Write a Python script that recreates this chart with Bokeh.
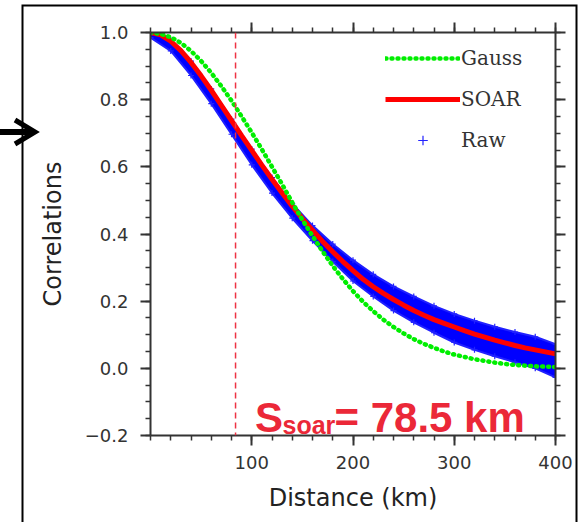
from urllib.parse import quote
from bokeh.plotting import figure
from bokeh.models import (Range1d, FixedTicker, LinearAxis, Span, Label, Legend, LegendItem,
                          PrintfTickFormatter)
from bokeh.embed import file_html
from bokeh.resources import INLINE

# ---------------- data ----------------
dist = [0, 10, 20, 30, 40, 50, 60, 70, 80, 90, 100, 110, 120, 130, 140, 150, 160, 170, 180, 190,
        200, 210, 220, 230, 240, 250, 260, 270, 280, 290, 300, 310, 320, 330, 340, 350, 360, 370,
        380, 390, 400]
soar = [1.000, 0.993, 0.974, 0.946, 0.911, 0.871, 0.828, 0.783, 0.738, 0.693, 0.649, 0.605,
        0.563, 0.522, 0.483, 0.446, 0.411, 0.378, 0.347, 0.318, 0.291, 0.265, 0.243, 0.223,
        0.205, 0.188, 0.172, 0.158, 0.145, 0.134, 0.123, 0.112, 0.102, 0.093, 0.084, 0.076,
        0.068, 0.061, 0.055, 0.049, 0.043]
gauss = [1.000, 0.996, 0.986, 0.969, 0.945, 0.915, 0.880, 0.840, 0.797, 0.750, 0.702, 0.652,
         0.600, 0.548, 0.494, 0.442, 0.394, 0.348, 0.305, 0.266, 0.230, 0.198, 0.170, 0.145,
         0.123, 0.104, 0.087, 0.073, 0.061, 0.050, 0.041, 0.034, 0.027, 0.022, 0.017, 0.013,
         0.010, 0.008, 0.006, 0.005, 0.004]

raw_dist = [0, 20, 40, 60, 80, 100, 120, 140, 160, 180, 200, 220, 240, 260, 280, 300, 320, 340,
            360, 380, 400]
raw_low = [0.985, 0.945, 0.872, 0.788, 0.697, 0.606, 0.522, 0.447, 0.380, 0.318, 0.260, 0.214,
           0.172, 0.137, 0.106, 0.077, 0.055, 0.036, 0.018, 0.000, -0.027]
raw_high = [1.004, 0.978, 0.915, 0.832, 0.742, 0.653, 0.568, 0.490, 0.425, 0.370, 0.322, 0.280,
            0.244, 0.214, 0.186, 0.162, 0.142, 0.124, 0.108, 0.094, 0.072]

scale_length = [84]          # dashed marker line (km)
x_ticks = [100, 200, 300, 400]
x_minor = [0, 20, 40, 60, 80, 100, 120, 140, 160, 180, 200, 220, 240, 260, 280, 300, 320, 340,
           360, 380, 400]
y_ticks = [-0.2, 0.0, 0.2, 0.4, 0.6, 0.8, 1.0]
y_minor = [-0.2, -0.15, -0.1, -0.05, 0.0, 0.05, 0.1, 0.15, 0.2, 0.25, 0.3, 0.35, 0.4, 0.45, 0.5,
           0.55, 0.6, 0.65, 0.7, 0.75, 0.8, 0.85, 0.9, 0.95, 1.0]
series_names = ["Gauss", "SOAR", "Raw"]

# ---------------- figure ----------------
p = figure(width=578, height=522, output_backend="svg", toolbar_location=None,
           x_range=Range1d(0, 400), y_range=Range1d(-0.2, 1.0),
           min_border_left=150, min_border_right=23, min_border_top=32, min_border_bottom=87,
           background_fill_color="white", border_fill_color=None)
p.xgrid.grid_line_color = None
p.ygrid.grid_line_color = None
p.outline_line_color = None

# page decoration outside the plot: outer black frame and the pointing arrow
decor_svg = ("<svg xmlns='http://www.w3.org/2000/svg' width='578' height='522'>"
             "<rect x='0' y='0' width='578' height='522' fill='white'/>"
             "<rect x='22.5' y='5.5' width='554' height='540' fill='none' stroke='black' "
             "stroke-width='2'/>"
             "<line x1='0' y1='132' x2='33' y2='132' stroke='black' stroke-width='6'/>"
             "<polyline points='15,120 35,132 15,144' fill='none' stroke='black' "
             "stroke-width='5'/></svg>")
p.styles = {"background-image": 'url("data:image/svg+xml,' + quote(decor_svg) + '")',
            "background-repeat": "no-repeat", "background-position": "0 0"}

axcol = "#333333"


def style_axis(ax, ticks, minor, labels=True):
    ax.ticker = FixedTicker(ticks=ticks, minor_ticks=minor)
    ax.axis_line_color = axcol
    ax.axis_line_width = 2
    ax.major_tick_line_color = axcol
    ax.major_tick_line_width = 2
    ax.major_tick_out = 10
    ax.major_tick_in = 0
    ax.minor_tick_line_color = axcol
    ax.minor_tick_line_width = 1.5
    ax.minor_tick_out = 5
    ax.minor_tick_in = 0
    if labels:
        ax.major_label_text_font = "DejaVu Sans"
        ax.major_label_text_font_size = "18px"
        ax.major_label_text_color = "#333333"
        ax.axis_label_text_font = "DejaVu Sans"
        ax.axis_label_text_font_size = "24px"
        ax.axis_label_text_font_style = "normal"
        ax.axis_label_text_color = "#222222"
    else:
        ax.major_label_text_font_size = "1px"
        ax.major_label_text_color = None
        ax.major_label_standoff = 0


style_axis(p.xaxis[0], x_ticks, x_minor)
style_axis(p.yaxis[0], y_ticks, y_minor)
p.xaxis[0].axis_label = "Distance (km)"
p.yaxis[0].axis_label = "Correlations"
p.xaxis[0].major_label_standoff = 10
p.xaxis[0].axis_label_standoff = 12
p.yaxis[0].major_label_standoff = 12
p.yaxis[0].axis_label_standoff = 15
p.yaxis[0].formatter = PrintfTickFormatter(format="%.1f")
p.yaxis[0].major_label_overrides = {-0.2: "\u22120.2"}

top_ax = LinearAxis()
style_axis(top_ax, x_ticks, x_minor, labels=False)
p.add_layout(top_ax, "above")
right_ax = LinearAxis()
style_axis(right_ax, y_ticks, y_minor, labels=False)
p.add_layout(right_ax, "right")

# ---------------- data glyphs ----------------
p.varea(x=raw_dist, y1=raw_low, y2=raw_high, fill_color="#0000ff", fill_alpha=1.0)
p.line(raw_dist, raw_low, line_color="#2020ff", line_width=2)
p.line(raw_dist, raw_high, line_color="#2020ff", line_width=2)
r_raw = p.scatter(x=raw_dist + raw_dist, y=raw_low + raw_high, marker="cross", size=6,
                  line_color="#2222ff", line_width=1.2)
r_soar = p.line(dist, soar, line_color="#ff0000", line_width=5)
r_gauss = p.line(dist, gauss, line_color="#00ee00", line_width=4.5, line_dash="1 5",
                 line_cap="round")

p.add_layout(Span(location=scale_length[0], dimension="height", line_color="#ee3344",
                  line_width=1.5, line_dash="6 4"))

legend = Legend(items=[LegendItem(label=series_names[0], renderers=[r_gauss]),
                       LegendItem(label=series_names[1], renderers=[r_soar]),
                       LegendItem(label=series_names[2], renderers=[r_raw])],
                location="top_right", margin=14, padding=0, spacing=17,
                glyph_width=75, glyph_height=24, label_height=24, label_width=80,
                label_standoff=1, label_text_font="DejaVu Serif", label_text_font_size="20px",
                label_text_color="#333333", border_line_color=None, background_fill_alpha=0)
p.add_layout(legend)

# ---------------- annotation text ----------------
red = "#eb2838"
p.add_layout(Label(x=103.2, y=-0.145, text="S", text_font="Liberation Sans",
                   text_font_style="bold", text_font_size="42px", text_color=red,
                   text_baseline="alphabetic", text_align="left"))
p.add_layout(Label(x=130.4, y=-0.170, text="soar", text_font="Liberation Sans",
                   text_font_style="bold", text_font_size="25px", text_color=red,
                   text_baseline="alphabetic", text_align="left"))
p.add_layout(Label(x=181.7, y=-0.145, text="= 78.5 km", text_font="Liberation Sans",
                   text_font_style="bold", text_font_size="42px", text_color=red,
                   text_baseline="alphabetic", text_align="left"))

open("out.html", "w").write(file_html(p, INLINE))
